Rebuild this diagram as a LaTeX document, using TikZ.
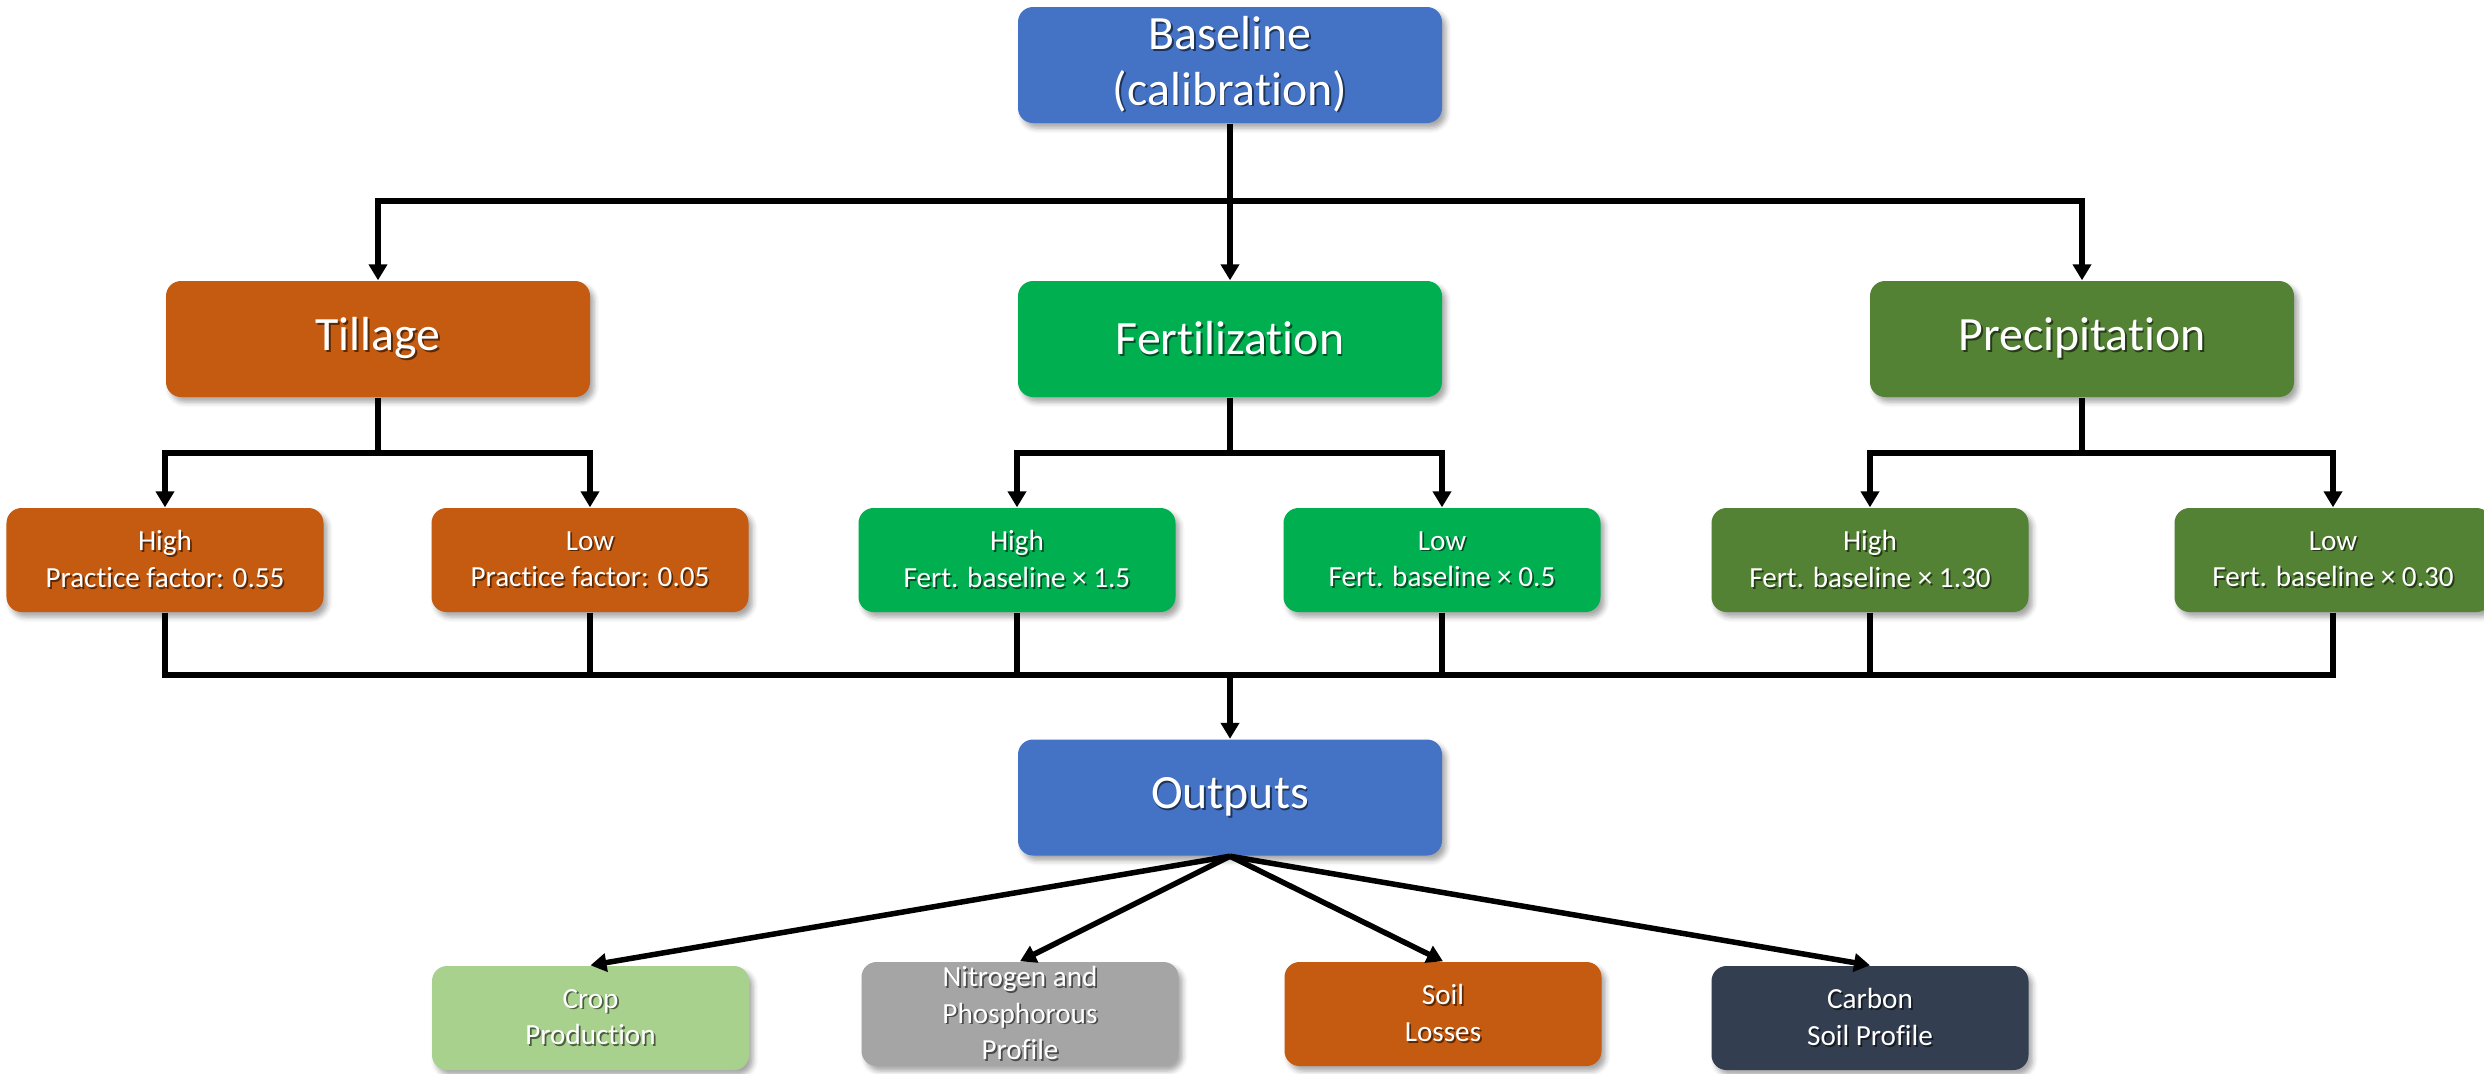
\documentclass[tikz,border=0pt]{standalone}
\usepackage{fontspec}
\setmainfont{Carlito}[Ligatures={NoCommon,NoContextual},RawFeature={-calt}]
\usetikzlibrary{arrows.meta,shadows.blur}

\definecolor{cblue}{HTML}{4472C4}
\definecolor{corange}{HTML}{C55A11}
\definecolor{cfert}{HTML}{00B050}
\definecolor{cprec}{HTML}{548235}
\definecolor{clight}{HTML}{A9D18E}
\definecolor{cgray}{HTML}{A5A5A5}
\definecolor{cnavy}{HTML}{333F50}

% white text with a small dark drop shadow behind it
\newcommand\sh[1]{\makebox[0pt][l]{\hspace{0.5pt}\raisebox{-0.5pt}{\pgfsetfillopacity{0.55}\color{black}#1\pgfsetfillopacity{1}}}#1}

\tikzset{
  box/.style={rounded corners=0.15cm, minimum width=4.24cm, minimum height=1.16cm,
    text=white, inner sep=0pt, align=center,
    font=\fontsize{13.6}{15.8}\selectfont,
    blur shadow={shadow xshift=0.04cm, shadow yshift=-0.05cm,
      shadow blur radius=0.05cm, shadow opacity=35}},
  leaf/.style={box, minimum width=3.17cm, minimum height=1.04cm,
    font=\fontsize{8.3}{10.4}\selectfont},
  link/.style={line width=0.055cm, black},
  arr/.style={link, -{Triangle[length=0.16cm,width=0.18cm]}},
}

\begin{document}
\begin{tikzpicture}
\useasboundingbox (0,0) rectangle (24.84,-10.73);

% top level
\node[box, fill=cblue] (base) at (12.30,-0.65) {\sh{Baseline}\\\sh{(calibration)}};

% factors
\node[box, fill=corange] (till) at (3.78,-3.39) {\sh{Tillage}};
\node[box, fill=cfert]   (fert) at (12.30,-3.39) {\sh{Fertilization}};
\node[box, fill=cprec]   (prec) at (20.82,-3.39) {\sh{Precipitation}};

% scenario levels
\node[leaf, fill=corange] (th) at (1.65,-5.60)  {\sh{High}\\\sh{Practice factor: 0.55}};
\node[leaf, fill=corange] (tl) at (5.90,-5.60)  {\sh{Low}\\\sh{Practice factor: 0.05}};
\node[leaf, fill=cfert]   (fh) at (10.17,-5.60) {\sh{High}\\\sh{Fert. baseline × 1.5}};
\node[leaf, fill=cfert]   (fl) at (14.42,-5.60) {\sh{Low}\\\sh{Fert. baseline × 0.5}};
\node[leaf, fill=cprec]   (ph) at (18.70,-5.60) {\sh{High}\\\sh{Fert. baseline × 1.30}};
\node[leaf, fill=cprec]   (pl) at (23.33,-5.60) {\sh{Low}\\\sh{Fert. baseline × 0.30}};

% outputs
\node[box, fill=cblue] (out) at (12.30,-7.975) {\sh{Outputs}};

\node[leaf, fill=clight] (crop) at (5.905,-10.18) {\sh{Crop}\\\sh{Production}};
\node[leaf, fill=cgray]  (nit)  at (10.20,-10.14) {\sh{Nitrogen and}\\\sh{Phosphorous}\\\sh{Profile}};
\node[leaf, fill=corange] (soil) at (14.43,-10.14) {\sh{Soil}\\\sh{Losses}};
\node[leaf, fill=cnavy]  (carb) at (18.70,-10.18) {\sh{Carbon}\\\sh{Soil Profile}};

% junction levels
\coordinate (j1) at (12.30,-2.01);
\coordinate (j2) at (0,-4.53);
\coordinate (j3) at (0,-6.75);

% baseline to factors
\draw[link] (base.south) -- (j1);
\draw[arr] (j1) -| (till.north);
\draw[arr] (j1) -| (prec.north);
\draw[arr] (j1) -- (fert.north);

% factors to scenario levels
\foreach \p/\a/\b in {till/th/tl, fert/fh/fl, prec/ph/pl}{
  \draw[link] (\p.south) -- (\p.south |- j2);
  \draw[arr] (\p.south |- j2) -| (\a.north);
  \draw[arr] (\p.south |- j2) -| (\b.north);
}

% scenario levels gathered into outputs
\draw[link] (th.south) |- (pl.south |- j3) -- (pl.south);
\foreach \n in {tl, fh, fl, ph}{
  \draw[link] (\n.south) -- (\n.south |- j3);
}
\draw[arr] (out.north |- j3) -- (out.north);

% outputs to results
\foreach \n in {crop, nit, soil, carb}{
  \draw[arr] (out.south) -- (\n.north);
}
\end{tikzpicture}
\end{document}
